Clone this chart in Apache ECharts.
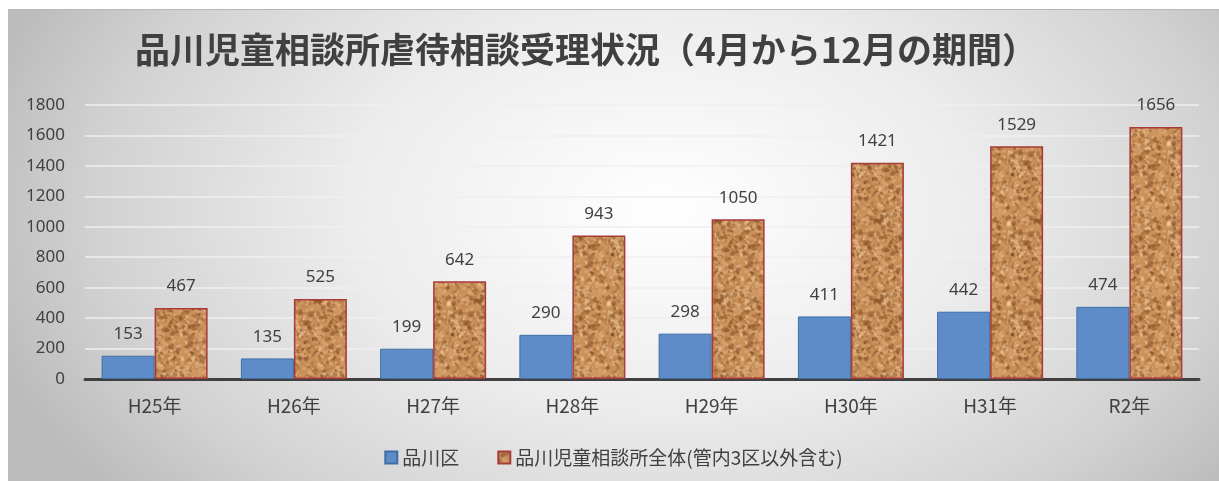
<!DOCTYPE html>
<html>
<head>
<meta charset="utf-8">
<script src="https://cdn.jsdelivr.net/npm/echarts@6/dist/echarts.min.js"></script>
<style>
html,body{margin:0;padding:0;background:#fff;width:1219px;height:481px;overflow:hidden;}
#chart{position:absolute;left:8px;top:9px;width:1211px;height:472px;
background:radial-gradient(ellipse 58% 95% at 54% 42%, #ffffff 0%, #ececec 45%, #d2d2d2 80%, #bcbcbc 100%);
border-top:1px solid #b8b8b8;box-sizing:border-box;}
</style>
</head>
<body>
<div id="chart"></div>
<script>
const titleText = '品川児童相談所虐待相談受理状況（4月から12月の期間）';
const categories = ['H25年','H26年','H27年','H28年','H29年','H30年','H31年','R2年'];
const seriesNames = ['品川区','品川児童相談所全体(管内3区以外含む)'];
const shinagawa = [153,135,199,290,298,411,442,474];
const allOffice = [467,525,642,943,1050,1421,1529,1656];
const yTicks = {min:0, max:1800, interval:200};

// deterministic cork-like texture
function makeTexture(){
  const N = 80;
  const c = document.createElement('canvas');
  c.width = N; c.height = N;
  const g = c.getContext('2d');
  g.fillStyle = '#c98f58';
  g.fillRect(0,0,N,N);
  let s = 12345;
  function h(){ s = (s*1103515245 + 12345) & 0x7fffffff; return s/0x7fffffff; }
  const cols = ['#8a5429','#a46a38','#e6b888','#f2cda2','#b57a45','#744520','#dba775','#d89f6a'];
  for(let i=0;i<900;i++){
    const x=h()*N, y=h()*N, r=0.6+h()*1.6;
    g.fillStyle = cols[Math.floor(h()*cols.length)];
    g.globalAlpha = 0.5;
    for(const dx of [-N,0,N]) for(const dy of [-N,0,N]){
      g.beginPath(); g.ellipse(x+dx,y+dy,r*1.4,r,h()*3,0,Math.PI*2); g.fill();
    }
  }
  g.globalAlpha = 1;
  return c;
}
const tex = makeTexture();

const chart = echarts.init(document.getElementById('chart'), null, {renderer:'canvas'});
const CJK = '"Noto Sans CJK JP", sans-serif';
const NUM = '"Noto Sans", "Noto Sans CJK JP", sans-serif';
chart.setOption({
  backgroundColor:'transparent',
  animation:false,
  textStyle:{fontFamily:NUM},
  title:{
    text:titleText,
    left:573, top:17, textAlign:'center',
    textStyle:{fontSize:35, fontWeight:'bold', color:'#404040', fontFamily:CJK}
  },
  legend:{
    data:seriesNames,
    left:'center', top:433,
    icon:'rect',
    itemWidth:12, itemHeight:12, itemGap:38,
    textStyle:{fontSize:19, color:'#404040', fontFamily:CJK}
  },
  grid:{left:77, right:20, top:95, bottom:102, containLabel:false},
  xAxis:{
    type:'category', data:categories,
    axisLine:{lineStyle:{color:'#404040', width:3}},
    axisTick:{show:false},
    axisLabel:{fontSize:19, color:'#404040', margin:17, fontFamily:CJK}
  },
  yAxis:{
    type:'value', min:yTicks.min, max:yTicks.max, interval:yTicks.interval,
    axisLine:{show:false}, axisTick:{show:false},
    axisLabel:{fontSize:17, color:'#404040', margin:20, formatter:function(v){return String(v);}},
    splitLine:{lineStyle:{color:'#efefef', width:1.5}}
  },
  series:[
    {
      name:seriesNames[0], type:'bar', data:shinagawa,
      barWidth:53, barGap:'0%',
      itemStyle:{color:'#5d8cc8', borderColor:'#3f6ea5', borderWidth:1},
      label:{show:true, position:'top', distance:13, fontSize:17, color:'#404040'}
    },
    {
      name:seriesNames[1], type:'bar', data:allOffice,
      barWidth:53, barGap:'0%',
      itemStyle:{color:{image:tex, repeat:'repeat'}, borderColor:'#a83a3a', borderWidth:1.5},
      label:{show:true, position:'top', distance:13, fontSize:17, color:'#404040'}
    }
  ]
});
</script>
</body>
</html>
